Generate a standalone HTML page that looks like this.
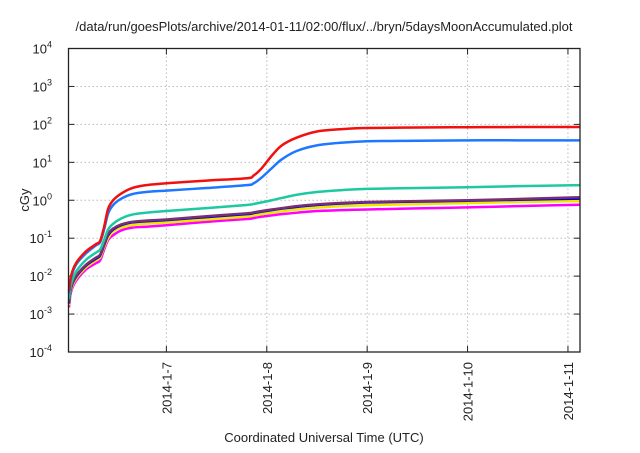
<!DOCTYPE html>
<html><head><meta charset="utf-8"><style>
body{margin:0;background:#fff}
text{font-family:"Liberation Sans",sans-serif;fill:#222}
</style></head><body>
<svg width="640" height="448">
<text x="324" y="31" text-anchor="middle" font-size="13">/data/run/goesPlots/archive/2014-01-11/02:00/flux/../bryn/5daysMoonAccumulated.plot</text>
<text x="0" y="0" transform="translate(29,200) rotate(-90)" text-anchor="middle" font-size="13">cGy</text>
<text x="324" y="442" text-anchor="middle" font-size="13">Coordinated Universal Time (UTC)</text>
<g id="grid"></g><g id="series"></g>
<rect x="68.5" y="48.5" width="511.5" height="303.5" fill="none" stroke="#222" stroke-width="1.3"/>
</svg>
<script>
const yTicks=[-4,-3,-2,-1,0,1,2,3,4];
const xTicks=[7,8,9,10,11];
const xTickLabels=["2014-1-7","2014-1-8","2014-1-9","2014-1-10","2014-1-11"];
const times=[6.03,6.05,6.1,6.2,6.3,6.34,6.38,6.42,6.47,6.55,6.66,6.8,7.0,7.4,7.8,7.87,7.95,8.05,8.15,8.3,8.5,8.75,9.0,9.5,10.0,10.5,11.12];
const red=[0.004,0.01,0.022,0.045,0.07,0.085,0.2,0.6,1.0,1.5,2.1,2.5,2.8,3.3,3.8,4.5,7,15,28,45,65,75,80,83,84,85,85];
const blue=[0.0035,0.009,0.02,0.04,0.065,0.078,0.17,0.45,0.75,1.1,1.45,1.65,1.8,2.1,2.5,2.8,4,7,12,20,28,33,36,37,38,38,38];
const teal=[0.0025,0.006,0.013,0.027,0.042,0.05,0.09,0.17,0.24,0.33,0.42,0.47,0.52,0.62,0.75,0.8,0.88,1.0,1.15,1.4,1.65,1.85,2.0,2.1,2.2,2.35,2.5];
const purple=[0.002,0.005,0.01,0.02,0.031,0.037,0.07,0.13,0.18,0.23,0.27,0.29,0.31,0.38,0.45,0.48,0.52,0.57,0.62,0.7,0.78,0.85,0.9,0.95,1.0,1.08,1.2];
const navy=[0.0019,0.0048,0.0095,0.019,0.029,0.035,0.066,0.12,0.17,0.22,0.26,0.28,0.3,0.36,0.43,0.46,0.5,0.55,0.6,0.67,0.75,0.82,0.87,0.92,0.97,1.03,1.1];
const yellow=[0.0017,0.0043,0.0085,0.017,0.026,0.031,0.058,0.1,0.15,0.19,0.22,0.24,0.26,0.31,0.37,0.4,0.43,0.47,0.51,0.57,0.64,0.7,0.74,0.79,0.84,0.9,0.95];
const magenta=[0.0015,0.0038,0.0075,0.015,0.022,0.026,0.05,0.09,0.12,0.16,0.19,0.2,0.22,0.27,0.32,0.34,0.37,0.4,0.43,0.47,0.52,0.55,0.57,0.61,0.65,0.7,0.76];
const seriesList=[["magenta-series",magenta,"#ff00ff"],["yellow-series",yellow,"#f2e600"],["navy-series",navy,"#0000dd"],["purple-series",purple,"#7a3070"],["teal-series",teal,"#1dc9a0"],["blue-series",blue,"#1e78ff"],["red-series",red,"#f01010"]];
const L=68.5,R=580,T=48.5,B=352,x0=6.025,x1=11.12;
const xs=d=>L+(d-x0)/(x1-x0)*(R-L);
const ys=v=>B-(Math.log10(v)+4)/8*(B-T);
const NS="http://www.w3.org/2000/svg";
const g=document.getElementById('grid'),s=document.getElementById('series');
function mk(tag,a,p){const e=document.createElementNS(NS,tag);for(const k in a)e.setAttribute(k,a[k]);p.appendChild(e);return e;}
yTicks.forEach(k=>{const y=B-(k+4)/8*(B-T);
 if(k>-4&&k<4){const l=mk('line',{x1:L,x2:R,y1:y,y2:y,stroke:'#bbb','stroke-dasharray':'1.5,2.5'},g);}
 const t1=mk('line',{x1:L,x2:L+6,y1:y,y2:y,stroke:'#222'},g);
 const t2=mk('line',{x1:R-6,x2:R,y1:y,y2:y,stroke:'#222'},g);
 const tx=mk('text',{x:52,y:y+5,'text-anchor':'end','font-size':13},g);
 tx.textContent='10';const sp=mk('tspan',{dy:-6,'font-size':9},tx);sp.textContent=String(k);});
xTicks.forEach((d,i)=>{const x=xs(d);
 const l=mk('line',{x1:x,x2:x,y1:T,y2:B,stroke:'#bbb','stroke-dasharray':'1.5,2.5'},g);
 const t1=mk('line',{x1:x,x2:x,y1:B-6,y2:B,stroke:'#222'},g);
 const t2=mk('line',{x1:x,x2:x,y1:T,y2:T+6,stroke:'#222'},g);
 const tx=mk('text',{x:0,y:0,transform:`translate(${x+5},${B+10}) rotate(-90)`,'text-anchor':'end','font-size':13},g);tx.textContent=xTickLabels[i];});
seriesList.forEach(([name,vals,col])=>{
 const pts=times.map((t,i)=>[xs(t),ys(vals[i])]);
 let d='M'+pts[0][0]+','+pts[0][1];
 for(let i=0;i<pts.length-1;i++){const p0=pts[Math.max(0,i-1)],p1=pts[i],p2=pts[i+1],p3=pts[Math.min(pts.length-1,i+2)];
  d+=` C${p1[0]+(p2[0]-p0[0])/6},${p1[1]+(p2[1]-p0[1])/6} ${p2[0]-(p3[0]-p1[0])/6},${p2[1]-(p3[1]-p1[1])/6} ${p2[0]},${p2[1]}`;}
 const p=mk('path',{d:d,fill:'none',stroke:col,'stroke-width':2.5},s);
 
 });
</script>
</body></html>
